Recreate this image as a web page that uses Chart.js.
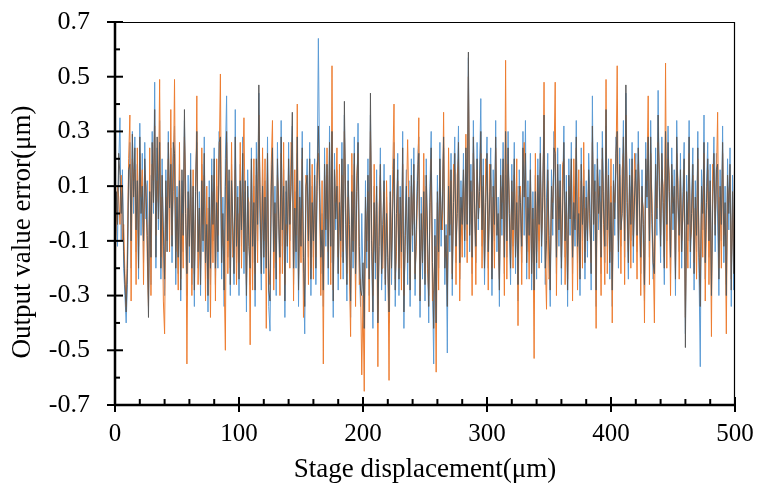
<!DOCTYPE html>
<html>
<head>
<meta charset="utf-8">
<script src="https://cdn.jsdelivr.net/npm/chart.js@4"></script>
<style>
  html, body { margin: 0; padding: 0; background: #fff; }
  #wrap { width: 758px; height: 490px; position: relative; }
</style>
</head>
<body>
<div id="wrap"><canvas id="chart"></canvas></div>
<script>
// ---- data (one value per 1 µm) ----
var X_START = 0;
var X_STEP  = 1;

var xTicks      = [0, 100, 200, 300, 400, 500];
var xMinorTicks = [20, 40, 60, 80, 120, 140, 160, 180, 220, 240, 260, 280, 320, 340, 360, 380, 420, 440, 460, 480];
var yTicks      = [-0.7, -0.5, -0.3, -0.1, 0.1, 0.3, 0.5, 0.7];
var yMinorTicks = [-0.6, -0.4, -0.2, 0, 0.2, 0.4, 0.6];

var xTitle = 'Stage displacement(μm)';
var yTitle = 'Output value error(μm)';

var blueSeries = [
  -0.16, 0.04, -0.12, 0.18, 0.35, -0.10, 0.16, -0.20, -0.30, -0.40, -0.26, 0.12, 0.26, -0.20, 0.30, 0.00, 0.28, -0.14, 0.18, -0.24,
  0.33, -0.08, 0.22, -0.18, 0.26, -0.02, 0.12, -0.30, 0.14, -0.26, 0.30, 0.00, 0.48, -0.20, 0.24, -0.06, 0.34, -0.24, 0.20, -0.12,
  -0.30, 0.16, -0.10, 0.30, -0.06, 0.24, -0.18, 0.20, 0.32, -0.26, 0.10, -0.22, 0.18, -0.32, 0.12, -0.14, 0.34, -0.04, -0.30, 0.14,
  -0.18, 0.22, -0.26, 0.06, -0.34, 0.14, 0.26, -0.20, 0.08, -0.30, 0.18, -0.14, 0.28, -0.24, 0.02, -0.36, 0.12, -0.26, 0.20, -0.10,
  0.24, -0.26, 0.10, -0.20, 0.30, 0.14, -0.24, 0.06, -0.34, 0.20, 0.43, -0.16, 0.12, -0.30, 0.18, -0.08, -0.26, 0.38, -0.18, 0.10,
  -0.30, 0.18, -0.12, 0.28, -0.22, 0.08, -0.36, 0.16, -0.08, -0.26, 0.24, -0.18, 0.10, -0.34, 0.26, -0.10, 0.44, -0.04, -0.28, 0.16,
  -0.22, 0.12, -0.14, 0.28, -0.34, -0.43, 0.06, 0.20, -0.20, 0.10, -0.30, 0.26, -0.06, -0.22, 0.34, -0.12, 0.16, -0.38, 0.08, -0.18,
  0.26, -0.10, 0.16, 0.32, -0.26, 0.08, -0.20, 0.22, -0.34, 0.12, -0.08, 0.30, -0.22, -0.44, 0.06, 0.20, -0.16, 0.26, -0.30, 0.10,
  -0.16, 0.20, -0.26, 0.08, 0.64, 0.16, -0.22, 0.00, -0.34, 0.24, -0.12, 0.14, -0.26, 0.32, -0.18, 0.10, -0.38, 0.22, -0.06, 0.16,
  -0.28, 0.10, -0.16, 0.26, -0.24, 0.36, -0.04, -0.32, 0.18, -0.10, -0.38, 0.14, -0.20, 0.28, -0.28, 0.04, 0.33, -0.18, -0.34, 0.00,
  -0.24, -0.38, 0.12, -0.20, 0.20, -0.30, 0.36, -0.14, -0.42, 0.10, -0.24, 0.16, -0.36, -0.08, 0.24, -0.28, -0.10, 0.18, -0.32, 0.06,
  -0.20, -0.40, 0.14, -0.26, 0.08, 0.26, -0.34, -0.06, 0.22, -0.30, 0.10, -0.20, 0.30, -0.42, -0.02, 0.16, -0.26, 0.12, -0.34, 0.20,
  -0.14, 0.24, -0.30, -0.02, 0.18, 0.28, -0.38, 0.06, -0.24, 0.14, -0.32, 0.20, -0.12, -0.40, 0.10, 0.30, -0.24, -0.55, -0.02, -0.34,
  0.14, -0.20, 0.26, -0.12, 0.08, 0.24, -0.26, -0.04, -0.51, 0.16, -0.14, 0.22, -0.30, 0.10, 0.28, -0.18, 0.06, 0.32, -0.24, 0.12,
  -0.08, 0.22, -0.16, 0.20, -0.10, 0.57, -0.14, 0.18, -0.22, 0.34, -0.02, -0.18, 0.26, -0.06, 0.14, 0.42, -0.12, 0.20, -0.26, 0.10,
  0.28, -0.20, 0.08, 0.24, -0.30, 0.16, -0.10, 0.34, -0.14, 0.06, -0.34, 0.20, -0.08, 0.26, -0.22, 0.14, -0.16, 0.30, -0.04, -0.26,
  0.18, -0.12, 0.26, -0.22, 0.10, -0.32, 0.16, -0.02, -0.18, 0.30, -0.08, 0.34, -0.24, 0.12, -0.14, 0.22, -0.28, 0.08, -0.20, 0.14,
  -0.24, 0.20, -0.10, 0.28, -0.18, 0.12, 0.30, -0.26, 0.06, 0.22, -0.14, -0.34, 0.16, -0.08, 0.30, 0.10, -0.22, 0.24, -0.12, 0.18,
  -0.26, 0.08, 0.32, -0.16, 0.14, -0.34, 0.20, -0.08, 0.26, -0.22, 0.10, -0.12, 0.34, -0.18, 0.06, -0.30, 0.24, -0.10, 0.16, -0.24,
  0.12, -0.16, 0.22, 0.06, -0.28, 0.43, -0.10, 0.18, -0.34, 0.26, -0.06, 0.16, -0.22, 0.30, 0.08, -0.18, 0.32, -0.12, 0.20, -0.24,
  0.10, -0.34, 0.18, -0.08, 0.28, 0.14, -0.20, 0.24, -0.12, 0.06, 0.34, -0.16, 0.44, 0.00, -0.24, 0.20, -0.10, 0.26, -0.18, 0.12,
  0.22, -0.14, 0.30, -0.02, -0.22, 0.16, -0.10, -0.32, 0.26, 0.02, 0.20, -0.16, 0.34, -0.04, -0.24, -0.12, 0.24, -0.08, 0.45, 0.06,
  -0.18, 0.28, 0.00, -0.26, 0.20, -0.10, 0.32, 0.04, -0.22, 0.24, -0.06, 0.16, -0.30, 0.34, 0.02, -0.14, 0.22, -0.20, 0.08, 0.26,
  -0.44, 0.14, -0.10, 0.34, -0.20, 0.06, 0.24, -0.28, 0.12, -0.14, 0.30, -0.22, -0.56, 0.16, -0.06, 0.36, -0.24, 0.10, 0.26, -0.16,
  0.18, -0.24, 0.08, 0.28, -0.14, 0.22, -0.02, -0.30, 0.16, -0.10, 0.32, -0.18, 0.10, -0.26, 0.20, -0.06, 0.24, -0.34, 0.14, -0.28,
  0.48
];

var orangeSeries = [
  -0.22, -0.02, 0.10, 0.06, -0.04, 0.14, -0.10, -0.04, -0.22, -0.34, -0.12, 0.20, 0.36, -0.32, 0.20, 0.12, 0.16, -0.26, 0.24, -0.12,
  0.22, 0.06, 0.16, -0.26, 0.14, 0.10, -0.16, -0.34, 0.24, -0.30, 0.18, 0.12, 0.32, -0.08, 0.12, 0.04, 0.49, -0.16, 0.06, -0.32,
  -0.44, 0.06, 0.02, 0.20, -0.14, 0.38, -0.08, 0.08, 0.49, -0.14, -0.02, -0.28, 0.26, -0.24, 0.00, -0.20, 0.28, 0.10, -0.55, 0.02,
  -0.06, 0.10, -0.30, 0.16, -0.22, 0.02, 0.43, -0.26, -0.04, -0.20, 0.24, -0.04, 0.14, -0.32, 0.10, -0.24, 0.02, -0.38, 0.08, -0.18,
  0.14, -0.32, 0.20, -0.08, 0.18, 0.51, -0.12, -0.06, -0.22, -0.50, 0.26, -0.22, 0.02, -0.20, 0.26, -0.16, -0.14, 0.16, -0.26, 0.00,
  -0.18, 0.26, -0.20, 0.14, 0.35, -0.04, -0.26, 0.06, 0.04, -0.48, 0.16, -0.28, 0.20, -0.22, 0.14, -0.18, 0.36, 0.08, -0.16, 0.24,
  -0.10, 0.20, -0.42, 0.16, -0.20, -0.26, 0.18, 0.34, -0.28, 0.00, -0.18, 0.14, 0.06, -0.30, 0.22, -0.22, 0.26, -0.26, -0.04, -0.08,
  0.14, -0.20, 0.26, 0.24, -0.32, 0.16, -0.08, 0.40, -0.24, 0.02, -0.18, 0.20, -0.38, -0.26, 0.14, 0.08, -0.26, 0.14, -0.20, 0.18,
  -0.24, 0.10, -0.16, 0.18, 0.22, 0.04, -0.30, 0.12, -0.55, 0.14, -0.02, 0.24, -0.14, 0.20, -0.26, 0.54, -0.28, 0.10, 0.04, 0.24,
  -0.16, 0.18, -0.24, 0.14, -0.14, 0.30, 0.08, -0.22, 0.06, -0.20, -0.45, 0.22, -0.10, 0.18, -0.34, 0.14, 0.22, -0.26, -0.24, -0.59,
  -0.30, -0.65, 0.02, -0.10, 0.08, -0.36, 0.30, -0.04, -0.30, 0.18, -0.14, 0.04, -0.56, 0.02, 0.14, -0.20, -0.20, 0.08, -0.24, 0.12,
  -0.12, -0.61, 0.04, -0.14, 0.16, 0.40, -0.24, -0.14, 0.12, -0.20, 0.00, -0.28, 0.18, -0.30, -0.12, 0.04, 0.27, 0.02, -0.24, 0.10,
  -0.04, 0.12, -0.22, -0.12, 0.08, 0.35, -0.30, -0.06, -0.14, 0.22, -0.22, 0.10, -0.20, -0.30, 0.00, 0.20, -0.32, -0.28, -0.12, -0.58,
  0.04, -0.28, 0.16, -0.02, -0.06, 0.37, -0.16, -0.14, -0.26, 0.24, -0.04, 0.12, -0.22, 0.18, 0.16, -0.26, 0.14, 0.20, -0.32, 0.02,
  -0.16, 0.12, -0.06, 0.29, -0.18, 0.50, -0.04, 0.08, -0.30, 0.22, 0.08, -0.26, 0.16, 0.04, 0.02, 0.22, -0.20, 0.10, -0.18, 0.20,
  0.16, -0.28, 0.18, 0.12, -0.20, 0.06, -0.20, 0.24, -0.04, -0.06, -0.24, 0.10, 0.04, 0.16, -0.30, 0.56, -0.24, 0.18, 0.06, -0.16,
  0.08, -0.20, 0.14, -0.12, 0.20, -0.41, 0.06, 0.10, -0.26, 0.18, 0.26, 0.14, -0.14, 0.02, -0.24, 0.12, -0.18, -0.02, -0.53, 0.22,
  -0.14, 0.08, -0.20, 0.16, -0.08, 0.02, 0.48, -0.16, -0.35, 0.12, -0.24, -0.22, 0.06, 0.04, 0.18, 0.48, -0.30, 0.12, -0.02, 0.06,
  -0.16, 0.18, 0.20, -0.26, 0.04, -0.24, 0.10, 0.04, 0.16, -0.32, 0.20, -0.02, 0.24, -0.28, 0.16, -0.20, 0.12, -0.20, 0.26, -0.14,
  0.02, -0.06, 0.12, -0.06, -0.18, 0.26, 0.00, 0.08, -0.42, 0.16, 0.06, 0.04, -0.30, 0.20, -0.04, -0.26, 0.49, -0.22, 0.10, -0.14,
  0.20, -0.40, 0.08, 0.04, 0.16, 0.54, -0.10, 0.14, -0.22, 0.16, 0.22, -0.26, 0.36, 0.10, -0.14, 0.10, -0.20, 0.16, -0.08, 0.22,
  0.10, -0.24, 0.18, 0.08, -0.30, 0.06, 0.02, -0.40, 0.14, 0.12, 0.43, -0.26, 0.22, 0.06, -0.14, -0.40, 0.12, 0.02, 0.26, 0.16,
  -0.08, 0.16, 0.10, -0.16, 0.55, -0.20, 0.20, 0.14, -0.30, 0.14, 0.04, 0.06, -0.20, 0.22, 0.12, -0.24, 0.12, -0.10, -0.02, 0.16,
  -0.38, 0.04, -0.20, 0.22, -0.10, -0.06, 0.14, -0.18, 0.02, -0.24, 0.20, -0.12, -0.26, 0.04, -0.16, 0.22, -0.32, 0.00, 0.16, -0.26,
  0.08, -0.45, 0.18, 0.16, -0.04, 0.12, 0.37, -0.20, 0.06, -0.20, 0.22, -0.08, 0.00, -0.44, 0.10, 0.04, 0.14, -0.24, 0.04, -0.18,
  0.40
];

var greySeries = [
  -0.10, 0.08, -0.04, 0.22, 0.14, 0.00, 0.10, -0.14, -0.26, -0.36, -0.20, 0.16, 0.18, -0.10, 0.29, 0.06, 0.24, -0.06, 0.12, -0.20,
  0.28, 0.00, 0.10, -0.10, 0.20, 0.06, -0.08, -0.38, 0.08, -0.16, 0.26, 0.04, 0.38, -0.16, 0.28, -0.02, 0.26, -0.20, 0.14, -0.06,
  -0.24, 0.12, -0.14, 0.26, 0.02, 0.18, -0.12, 0.26, 0.22, -0.20, 0.06, -0.16, 0.12, -0.28, 0.16, -0.08, 0.38, 0.00, -0.22, 0.08,
  -0.12, 0.16, -0.20, 0.10, -0.28, 0.08, 0.30, -0.14, 0.02, -0.26, 0.12, -0.10, 0.22, -0.18, -0.04, -0.30, 0.06, -0.20, 0.14, -0.04,
  0.20, -0.20, 0.04, -0.14, 0.26, 0.28, -0.18, 0.00, -0.28, 0.10, 0.30, -0.10, 0.16, -0.26, 0.12, -0.02, -0.22, 0.28, -0.12, 0.06,
  -0.24, 0.12, -0.06, 0.22, -0.14, 0.12, -0.30, 0.10, -0.12, -0.20, 0.20, -0.12, 0.04, -0.28, 0.20, -0.04, 0.47, 0.02, -0.22, 0.10,
  -0.16, 0.06, -0.20, 0.22, -0.28, -0.32, 0.10, 0.24, -0.14, 0.04, -0.24, 0.20, -0.02, -0.16, 0.28, -0.06, 0.10, -0.32, 0.12, -0.12,
  0.20, -0.04, 0.10, 0.37, -0.20, 0.02, -0.14, 0.28, -0.28, 0.06, -0.12, 0.24, -0.16, -0.34, 0.10, 0.14, -0.10, 0.20, -0.24, 0.04,
  -0.10, 0.14, -0.20, 0.12, 0.32, 0.10, -0.16, -0.06, -0.28, 0.18, -0.06, 0.18, -0.20, 0.26, -0.12, 0.30, -0.32, 0.16, -0.02, 0.10,
  -0.22, 0.04, -0.10, 0.20, -0.18, 0.41, 0.02, -0.26, 0.12, -0.04, -0.32, 0.08, -0.14, 0.22, -0.22, 0.08, 0.26, -0.12, -0.28, -0.30,
  -0.18, -0.42, 0.06, -0.14, 0.14, -0.24, 0.44, -0.10, -0.36, 0.04, -0.18, 0.10, -0.40, -0.12, 0.18, -0.22, -0.04, 0.12, -0.26, 0.00,
  -0.16, -0.36, 0.08, -0.20, 0.02, 0.20, -0.28, 0.00, 0.16, -0.24, 0.06, -0.14, 0.24, -0.36, -0.08, 0.10, -0.18, 0.06, -0.28, 0.14,
  -0.08, 0.18, -0.24, -0.06, 0.12, 0.22, -0.32, 0.00, -0.18, 0.08, -0.26, 0.14, -0.06, -0.34, 0.04, 0.24, -0.18, -0.42, -0.08, -0.40,
  0.08, -0.14, 0.20, -0.06, 0.02, 0.28, -0.20, -0.08, -0.34, 0.10, -0.08, 0.16, -0.24, 0.04, 0.22, -0.12, 0.00, 0.26, -0.18, 0.06,
  -0.04, 0.16, -0.10, 0.24, -0.04, 0.59, -0.08, 0.12, -0.16, 0.28, 0.02, -0.12, 0.20, -0.02, 0.08, 0.30, -0.06, 0.14, -0.20, 0.04,
  0.22, -0.14, 0.02, 0.18, -0.24, 0.10, -0.04, 0.28, -0.08, 0.00, -0.28, 0.14, -0.02, 0.20, -0.16, 0.30, -0.10, 0.24, 0.00, -0.20,
  0.12, -0.06, 0.20, -0.16, 0.04, -0.26, 0.10, 0.04, -0.12, 0.24, 0.06, 0.22, -0.18, 0.06, -0.08, 0.16, -0.22, 0.02, -0.28, 0.08,
  -0.18, 0.14, -0.04, 0.22, -0.12, 0.06, 0.36, -0.20, -0.10, 0.16, -0.08, -0.28, 0.10, -0.02, 0.24, 0.22, -0.16, 0.18, -0.06, 0.12,
  -0.20, 0.02, 0.26, -0.10, 0.08, -0.28, 0.14, -0.02, 0.20, -0.16, 0.04, -0.06, 0.28, -0.12, 0.00, -0.24, 0.18, -0.04, 0.10, -0.18,
  0.06, -0.10, 0.16, 0.00, -0.22, 0.32, -0.04, 0.12, -0.28, 0.20, 0.00, 0.10, -0.16, 0.24, 0.02, -0.12, 0.38, -0.06, 0.14, -0.18,
  0.04, -0.28, 0.12, -0.02, 0.22, 0.30, -0.14, 0.18, -0.06, 0.00, 0.28, -0.10, 0.47, 0.04, -0.18, 0.14, -0.04, 0.20, -0.12, 0.06,
  0.16, -0.08, 0.24, 0.02, -0.16, 0.10, -0.04, -0.26, 0.20, 0.06, 0.28, -0.10, 0.28, 0.00, -0.18, -0.22, 0.18, -0.02, 0.36, 0.10,
  -0.12, 0.22, 0.04, -0.20, 0.30, -0.04, 0.26, 0.08, -0.16, 0.18, 0.00, 0.10, -0.24, 0.28, 0.06, -0.08, 0.16, -0.14, 0.02, 0.20,
  -0.49, 0.08, -0.04, 0.28, -0.14, 0.00, 0.18, -0.22, 0.06, -0.08, 0.24, -0.16, -0.34, 0.10, 0.00, 0.26, -0.18, 0.04, 0.20, -0.10,
  0.12, -0.30, 0.02, 0.22, -0.08, 0.16, 0.18, -0.24, 0.10, -0.04, 0.26, -0.12, 0.04, -0.30, 0.14, 0.00, 0.18, -0.28, 0.08, -0.22,
  0.44
];

// ---- styling ----
var FONT   = "'Liberation Serif', 'Times New Roman', serif";
var BLUE   = '#5b9bd5';
var ORANGE = '#ed7d31';
var GREY   = '#595959';

function toPoints(arr) {
  return arr.map(function (v, i) { return { x: X_START + i * X_STEP, y: v }; });
}

function lineSet(label, arr, color, order) {
  return {
    label: label,
    data: toPoints(arr),
    borderColor: color,
    borderWidth: 1,
    pointRadius: 0,
    tension: 0,
    fill: false,
    order: order
  };
}

// frame, crossing major ticks, inner minor ticks and the two titles
var axesDecor = {
  id: 'axesDecor',
  afterDraw: function (chart) {
    var ctx = chart.ctx;
    var ca  = chart.chartArea;
    var xs  = chart.scales.x;
    var ys  = chart.scales.y;

    function line(x1, y1, x2, y2) {
      ctx.beginPath();
      ctx.moveTo(x1, y1);
      ctx.lineTo(x2, y2);
      ctx.stroke();
    }

    ctx.save();
    ctx.strokeStyle = '#000';

    ctx.lineWidth = 1.2;
    line(ca.left, ca.top + 0.5, ca.right, ca.top + 0.5);
    line(ca.right - 0.5, ca.top, ca.right - 0.5, ca.bottom);

    ctx.lineWidth = 2.5;
    line(ca.left, ca.top, ca.left, ca.bottom + 1);
    line(ca.left - 1, ca.bottom, ca.right, ca.bottom);

    ctx.lineWidth = 2;
    yTicks.forEach(function (v) {
      var y = ys.getPixelForValue(v);
      line(ca.left - 8, y, ca.left + 8, y);
    });
    yMinorTicks.forEach(function (v) {
      var y = ys.getPixelForValue(v);
      line(ca.left, y, ca.left + 5, y);
    });
    xTicks.forEach(function (v) {
      var x = xs.getPixelForValue(v);
      line(x, ca.bottom - 8, x, ca.bottom + 7);
    });
    xMinorTicks.forEach(function (v) {
      var x = xs.getPixelForValue(v);
      line(x, ca.bottom - 6, x, ca.bottom);
    });

    ctx.fillStyle = '#000';
    ctx.font = '27px ' + FONT;
    ctx.textAlign = 'center';
    ctx.textBaseline = 'middle';
    ctx.fillText(xTitle, (ca.left + ca.right) / 2, 470);

    ctx.translate(23, 232);
    ctx.rotate(-Math.PI / 2);
    ctx.fillText(yTitle, 0, 0);
    ctx.restore();
  }
};

new Chart(document.getElementById('chart'), {
  type: 'line',
  data: {
    datasets: [
      lineSet('Series 1', blueSeries, BLUE, 3),
      lineSet('Series 2', orangeSeries, ORANGE, 2),
      lineSet('Series 3', greySeries, GREY, 1)
    ]
  },
  options: {
    responsive: true,
    maintainAspectRatio: false,
    animation: false,
    events: [],
    layout: { padding: { left: 0, top: 22, right: 23, bottom: 0 } },
    plugins: {
      legend: { display: false },
      tooltip: { enabled: false }
    },
    scales: {
      x: {
        type: 'linear',
        min: 0,
        max: 500,
        afterBuildTicks: function (s) { s.ticks = xTicks.map(function (v) { return { value: v }; }); },
        afterFit: function (s) {
          s.height = 85;
          s.paddingLeft = 0;
          s.paddingRight = 0;
        },
        grid: { display: false, drawTicks: false },
        border: { display: false },
        ticks: {
          padding: 14,
          maxRotation: 0,
          color: '#000',
          font: { family: FONT, size: 25 }
        }
      },
      y: {
        min: -0.7,
        max: 0.7,
        afterBuildTicks: function (s) { s.ticks = yTicks.map(function (v) { return { value: v }; }); },
        afterFit: function (s) {
          s.width = 115;
          s.paddingTop = 0;
          s.paddingBottom = 0;
        },
        grid: { display: false, drawTicks: false },
        border: { display: false },
        ticks: {
          padding: 25,
          color: '#000',
          font: { family: FONT, size: 26 },
          callback: function (v) { return Number(v).toFixed(1); }
        }
      }
    }
  },
  plugins: [axesDecor]
});
</script>
</body>
</html>
